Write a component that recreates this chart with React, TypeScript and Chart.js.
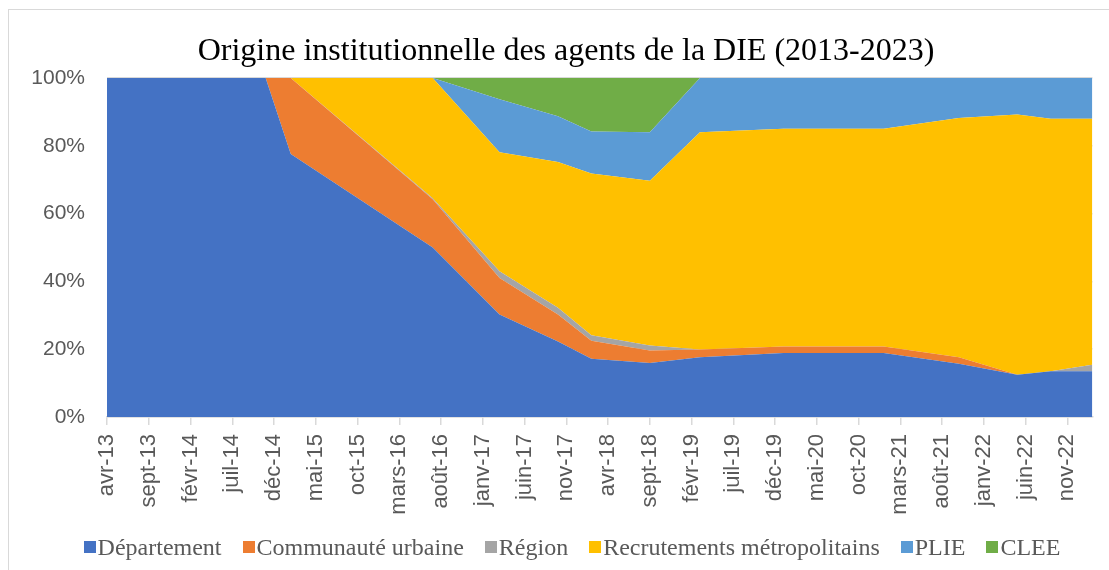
import React, { useEffect, useRef } from 'react';
import { Chart, registerables } from 'chart.js';

Chart.register(...registerables);

// Observation dates (year-month)
const dates = ['2013-04', '2014-11', '2015-02', '2016-07', '2017-03', '2017-10', '2018-02', '2018-09', '2019-03', '2020-01', '2021-01', '2021-10', '2022-05', '2022-09', '2023-02'];

// Shares (%) by institutional origin
const departement = [100, 100, 77.6, 50.0, 30.2, 22.3, 17.2, 15.9, 17.6, 18.9, 18.9, 15.7, 12.5, 13.5, 13.5];
const communaute = [0, 0, 22.4, 14.2, 10.8, 7.9, 5.3, 3.7, 2.3, 1.9, 1.9, 1.9, 0, 0, 0];
const region = [0, 0, 0, 0.3, 2.0, 2.0, 1.6, 1.5, 0, 0, 0, 0, 0, 0, 1.9];
const recrutements = [0, 0, 0, 35.5, 35.1, 43.0, 47.7, 48.6, 64.1, 64.2, 64.2, 70.6, 76.7, 74.5, 72.6];
const plie = [0, 0, 0, 0, 15.6, 13.5, 12.4, 14.3, 16.0, 15.0, 15.0, 11.8, 10.8, 12.0, 12.0];
const clee = [0, 0, 0, 0, 6.3, 11.3, 15.8, 16.0, 0, 0, 0, 0, 0, 0, 0];

const seriesNames = ['Département', 'Communauté urbaine', 'Région', 'Recrutements métropolitains', 'PLIE', 'CLEE'];
const colors = ['#4472C4', '#ED7D31', '#A5A5A5', '#FFC000', '#5B9BD5', '#70AD47'];

// X-axis tick labels, every 5 months from avr-13
const tickLabels = ['avr-13', 'sept-13', 'févr-14', 'juil-14', 'déc-14', 'mai-15', 'oct-15', 'mars-16', 'août-16', 'janv-17', 'juin-17', 'nov-17', 'avr-18', 'sept-18', 'févr-19', 'juil-19', 'déc-19', 'mai-20', 'oct-20', 'mars-21', 'août-21', 'janv-22', 'juin-22', 'nov-22'];
const tickStepMonths = 5;
const yTicks = [0, 20, 40, 60, 80, 100];

const title = 'Origine institutionnelle des agents de la DIE (2013-2023)';

function monthIndex(d: string): number {
  const [y, m] = d.split('-').map(Number);
  return (y - 2013) * 12 + (m - 4);
}

export default function App() {
  const ref = useRef<HTMLCanvasElement>(null);

  useEffect(() => {
    const xs = dates.map(monthIndex);
    const series = [departement, communaute, region, recrutements, plie, clee];
    const xFont = { family: '"Liberation Sans", Arial, sans-serif', size: 22 };
    const yFont = { family: '"Liberation Sans", Arial, sans-serif', size: 21 };
    let pad = { left: 7, top: 70, right: 10, bottom: 60 };
    const chart = new Chart(ref.current as HTMLCanvasElement, {
      type: 'line',
      data: {
        datasets: series.map((vals, i) => ({
          label: seriesNames[i],
          data: vals.map((v, j) => ({ x: xs[j], y: v })),
          backgroundColor: colors[i],
          borderColor: colors[i],
          borderWidth: 0,
          pointRadius: 0,
          pointHoverRadius: 0,
          tension: 0,
          fill: i === 0 ? 'origin' : '-1',
        })),
      },
      options: {
        animation: false,
        responsive: false,
        maintainAspectRatio: false,
        layout: { padding: pad },
        plugins: {
          legend: { display: false },
          title: { display: false },
          tooltip: { enabled: false },
        },
        scales: {
          x: {
            type: 'linear',
            min: xs[0],
            max: xs[xs.length - 1],
            afterBuildTicks: (s: any) => {
              s.ticks = tickLabels.map((_, i) => ({ value: i * tickStepMonths }));
            },
            afterFit: (s: any) => {
              s.height = 100;
            },
            ticks: {
              autoSkip: false,
              maxRotation: 90,
              minRotation: 90,
              padding: 9,
              color: '#595959',
              font: xFont,
              callback: (v: any) => tickLabels[Math.round(Number(v) / tickStepMonths)] ?? '',
            },
            grid: { drawOnChartArea: false, drawTicks: true, tickLength: 8, color: '#d9d9d9', lineWidth: 1.5 },
            border: { display: true, color: '#d9d9d9', width: 1.5 },
          },
          y: {
            stacked: true,
            min: 0,
            max: 100,
            afterBuildTicks: (s: any) => {
              s.ticks = yTicks.map((v) => ({ value: v }));
            },
            afterFit: (s: any) => {
              s.width = 100;
            },
            ticks: {
              padding: 22,
              color: '#595959',
              font: yFont,
              callback: (v: any) => `${v}%`,
            },
            grid: { color: '#d9d9d9', drawTicks: false, lineWidth: 1.5 },
            border: { display: false },
          },
        },
      },
    } as any);

    // Align the plot area with the reference layout
    const target = { left: 107, top: 78, right: 1092, bottom: 417 };
    const ca = chart.chartArea;
    pad = {
      left: pad.left + (target.left - ca.left),
      top: pad.top + (target.top - ca.top),
      right: pad.right + (ca.right - target.right),
      bottom: pad.bottom + (ca.bottom - target.bottom),
    };
    (chart.options as any).layout.padding = pad;
    chart.update();

    return () => chart.destroy();
  }, []);

  return (
    <div style={{ position: 'fixed', left: 0, top: 0, width: 1109, height: 570, overflow: 'hidden', background: '#fff' }}>
      <div style={{ position: 'absolute', left: 8, top: 9, width: 2000, height: 2000, borderLeft: '1.5px solid #d9d9d9', borderTop: '1.5px solid #d9d9d9' }} />
      <canvas ref={ref} width={1109} height={570} style={{ position: 'absolute', left: 0, top: 0, width: 1109, height: 570 }} />
      <div style={{ position: 'absolute', left: 66, width: 1000, top: 33, textAlign: 'center', fontFamily: '"Liberation Serif", "Times New Roman", serif', fontSize: 32, lineHeight: '32px', color: '#000', whiteSpace: 'nowrap' }}>
        {title}
      </div>
      <div style={{ position: 'absolute', left: 0, width: 1144, top: 533, height: 28, display: 'flex', justifyContent: 'center', alignItems: 'center', fontFamily: '"Liberation Serif", "Times New Roman", serif', fontSize: 24, lineHeight: '28px', color: '#595959', whiteSpace: 'nowrap' }}>
        {seriesNames.map((n, i) => (
          <span key={n} style={{ display: 'flex', alignItems: 'center', marginRight: i < seriesNames.length - 1 ? 21 : 0 }}>
            <span style={{ display: 'inline-block', width: 12, height: 12, background: colors[i], marginRight: 2 }} />
            {n}
          </span>
        ))}
      </div>
    </div>
  );
}
